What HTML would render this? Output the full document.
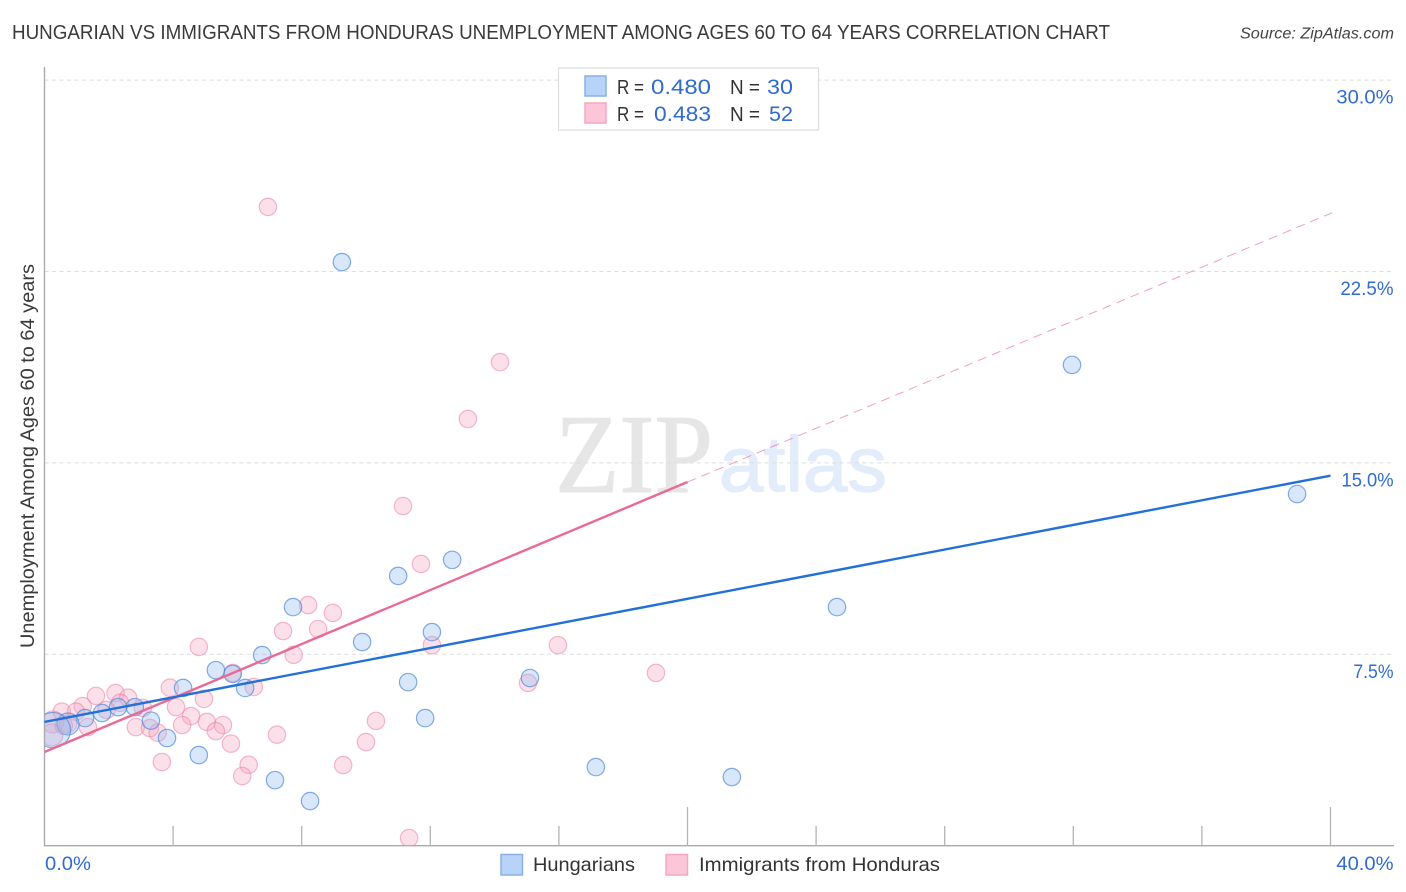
<!DOCTYPE html>
<html lang="en">
<head>
<meta charset="utf-8">
<title>Hungarian vs Immigrants from Honduras Unemployment Correlation Chart</title>
<style>
  html, body { margin: 0; padding: 0; background: #fff; }
  body { width: 1406px; height: 892px; overflow: hidden; }
  svg { display: block; font-family: "Liberation Sans", sans-serif; }
</style>
</head>
<body>
<svg id="chart" width="1406" height="892" viewBox="0 0 1406 892" xmlns="http://www.w3.org/2000/svg">
  <defs>
    <clipPath id="plot-clip"><rect x="45" y="60" width="1349" height="786"/></clipPath>
  </defs>
  <rect x="0" y="0" width="1406" height="892" fill="#ffffff"/>
  <text x="12" y="39" font-size="20" fill="#3a3a3a" textLength="1098" lengthAdjust="spacingAndGlyphs">HUNGARIAN VS IMMIGRANTS FROM HONDURAS UNEMPLOYMENT AMONG AGES 60 TO 64 YEARS CORRELATION CHART</text>
  <text x="1240" y="38.500" font-size="15.500" font-style="italic" fill="#444444" textLength="154" lengthAdjust="spacingAndGlyphs">Source: ZipAtlas.com</text>

  <g>
    <text x="555" y="492" font-family="'Liberation Serif', serif" font-size="112" fill="#e6e6e6" stroke="#e6e6e6" stroke-width="1" textLength="158" lengthAdjust="spacingAndGlyphs">ZIP</text>
    <text x="719" y="491" font-size="78" fill="#e2ecfa" stroke="#e2ecfa" stroke-width="1.200" textLength="168" lengthAdjust="spacingAndGlyphs">atlas</text>
  </g>

  <g id="grid"></g>
  <g id="axes"></g>
  <g id="pink-points" clip-path="url(#plot-clip)"></g>
  <g id="blue-points" clip-path="url(#plot-clip)"></g>
  <g id="trends"></g>
  <g id="labels"></g>

  <text transform="translate(34,648) rotate(-90)" x="0" y="0" font-size="19" fill="#3a3a3a" textLength="384" lengthAdjust="spacingAndGlyphs">Unemployment Among Ages 60 to 64 years</text>

  <g>
    <rect x="558.500" y="68" width="260" height="62" fill="#ffffff" fill-opacity="0.88" stroke="#dddddd" stroke-width="1.200"/>
    <rect x="585" y="76" width="21" height="20" fill="#b8d3f8" stroke="#8ab0e6" stroke-width="1.500"/>
    <rect x="585" y="103" width="21" height="20" fill="#fcc6d8" stroke="#f5a8c0" stroke-width="1.500"/>
    <text x="617" y="94" font-size="20" fill="#333333" textLength="27" lengthAdjust="spacingAndGlyphs">R =</text>
    <text x="651" y="94" font-size="21.500" fill="#2f6bd0" textLength="60" lengthAdjust="spacingAndGlyphs">0.480</text>
    <text x="730" y="94" font-size="20" fill="#333333" textLength="30" lengthAdjust="spacingAndGlyphs">N =</text>
    <text x="767" y="94" font-size="21.500" fill="#2f6bd0" textLength="26" lengthAdjust="spacingAndGlyphs">30</text>
    <text x="617" y="121" font-size="20" fill="#333333" textLength="27" lengthAdjust="spacingAndGlyphs">R =</text>
    <text x="654" y="121" font-size="21.500" fill="#2f6bd0" textLength="57" lengthAdjust="spacingAndGlyphs">0.483</text>
    <text x="730" y="121" font-size="20" fill="#333333" textLength="30" lengthAdjust="spacingAndGlyphs">N =</text>
    <text x="769" y="121" font-size="21.500" fill="#2f6bd0" textLength="24" lengthAdjust="spacingAndGlyphs">52</text>
  </g>

  <g>
    <rect x="501" y="854.500" width="21.500" height="20.500" fill="#b8d3f8" stroke="#8ab0e6" stroke-width="1.500"/>
    <text x="533" y="871" font-size="19.500" fill="#333333" textLength="102" lengthAdjust="spacingAndGlyphs">Hungarians</text>
    <rect x="666" y="854.500" width="21.500" height="20.500" fill="#fcc6d8" stroke="#f5a8c0" stroke-width="1.500"/>
    <text x="699" y="871" font-size="19.500" fill="#333333" textLength="241" lengthAdjust="spacingAndGlyphs">Immigrants from Honduras</text>
  </g>
</svg>

<script>
const hungariansX = [9.25, 31.96, 38.96, 24.65, 12.68, 11.0, 7.73, 12.05, 9.88, 6.77, 5.85, 5.33, 4.31, 6.24, 11.31, 15.10, 11.84, 3.31, 3.81, 4.8, 7.17, 8.26, 17.15, 21.38, 2.81, 2.29, 1.79, 1.26, 0.73, 0.26];
const hungariansY = [22.87, 18.84, 13.78, 9.35, 11.20, 10.57, 9.35, 8.37, 7.98, 7.47, 6.73, 6.88, 6.18, 6.18, 6.41, 6.57, 5.0, 4.9, 4.22, 3.55, 2.57, 1.75, 3.08, 2.69, 5.43, 5.43, 5.2, 5.0, 4.77, 4.53];
const hungariansWeight = [1, 1, 1, 1, 1, 1, 1, 1, 1, 1, 1, 1, 1, 1, 1, 1, 1, 1, 1, 1, 1, 1, 1, 1, 1, 1, 1, 1, 1.6, 4.1];

const hondurasX = [4.80, 7.42, 8.51, 7.75, 5.86, 6.51, 3.90, 4.96, 4.09, 4.56, 5.05, 5.55, 5.33, 4.28, 7.23, 5.80, 6.35, 6.15, 3.65, 2.84, 3.28, 3.52, 1.60, 2.21, 2.60, 1.19, 0.54, 0.98, 2.35, 3.06, 1.93, 1.35, 0.26, 0.23, 0.73, 9.29, 6.95, 14.17, 13.17, 11.15, 11.71, 8.20, 8.97, 12.05, 15.97, 19.02, 15.04, 10.31, 10.0, 11.34, 17.35, 0.6];
const hondurasY = [7.79, 8.41, 8.49, 7.48, 6.77, 6.22, 6.19, 5.75, 5.43, 5.08, 4.85, 4.73, 4.49, 4.73, 4.35, 4.0, 3.17, 2.73, 3.28, 4.65, 4.61, 4.43, 5.87, 5.98, 5.80, 5.47, 5.25, 5.25, 5.60, 5.40, 5.32, 4.65, 4.85, 4.34, 4.77, 3.16, 25.03, 18.95, 16.72, 13.31, 11.04, 9.43, 9.12, 7.86, 7.86, 6.77, 6.38, 4.89, 4.06, 0.3, 29.14, 4.7];
const hondurasWeight = [1, 1, 1, 1, 1, 1, 1, 1, 1, 1, 1, 1, 1, 1, 1, 1, 1, 1, 1, 1, 1, 1, 1, 1, 1, 1, 1, 1, 1, 1, 1, 1, 1.6, 1.6, 1, 1, 1, 1, 1, 1, 1, 1, 1, 1, 1, 1, 1, 1, 1, 1, 1, 1];

const hungariansTrendX = [0, 40];
const hungariansTrendY = [4.85, 14.5];
const hondurasSolidX = [0, 20];
const hondurasSolidY = [3.67, 14.25];
const hondurasDashedX = [20, 40.05];
const hondurasDashedY = [14.25, 24.8];

const yTickValues = [7.5, 15, 22.5, 30];
const yTickLabels = ['7.5%', '15.0%', '22.5%', '30.0%'];
const xTickValues = [4, 8, 12, 16, 20, 24, 28, 32, 36, 40];
const xMajorTicks = [20, 40];
const xEndValues = [0, 40];
const xEndLabels = ['0.0%', '40.0%'];

const SVG_NS = 'http://www.w3.org/2000/svg';
function xScale(v) { return 44.5 + v * 32.15; }
function yScale(v) { return 845.7 - v * 25.52; }
function make(tag, attrs, parent) {
  const el = document.createElementNS(SVG_NS, tag);
  for (const k in attrs) el.setAttribute(k, attrs[k]);
  parent.appendChild(el);
  return el;
}
/* The original label font has a narrow "1" and "7"; fit Liberation to those widths. */
function fitLabel(el) {
  const t = el.textContent;
  const base = el.getComputedTextLength();
  const narrowSeven = t.charAt(0) === '7' ? 0.925 : 1;
  const narrowOne = t.charAt(0) === '1' ? 0.965 : 1;
  const narrowTwo = t.charAt(0) === '2' ? 0.985 : 1;
  const plain = narrowSeven === 1 && narrowOne === 1 && narrowTwo === 1 ? 1.06 : 1;
  el.setAttribute('textLength', (base * narrowSeven * narrowOne * narrowTwo * plain).toFixed(1));
  el.setAttribute('lengthAdjust', 'spacingAndGlyphs');
}

const gridGroup = document.getElementById('grid');
const axesGroup = document.getElementById('axes');
const labelGroup = document.getElementById('labels');
const pinkGroup = document.getElementById('pink-points');
const blueGroup = document.getElementById('blue-points');
const trendGroup = document.getElementById('trends');

yTickValues.forEach(function (v, i) {
  const line = make('line', { x1: 44.5, x2: 1394, y1: yScale(v), y2: yScale(v), stroke: '#dedede', 'stroke-width': 1, 'stroke-dasharray': '4 3.5' }, gridGroup);
  
  
  const label = make('text', { x: 1393.5, y: yScale(v) + 23.5, 'text-anchor': 'end', 'font-size': 19, fill: '#2f6bd0' }, labelGroup);
  
  
  label.textContent = yTickLabels[i];
  fitLabel(label);
});

const yAxis = make('line', { x1: 44.5, x2: 44.5, y1: 67, y2: 846.4, stroke: '#aaaaaa', 'stroke-width': 1.4 }, axesGroup);


const xAxis = make('line', { x1: 44, x2: 1394, y1: 845.7, y2: 845.7, stroke: '#aaaaaa', 'stroke-width': 1.4 }, axesGroup);



xTickValues.forEach(function (v) {
  const tall = xMajorTicks.indexOf(v) >= 0;
  const tick = make('line', { x1: xScale(v), x2: xScale(v), y1: tall ? 807 : 826, y2: 845.7, stroke: '#b4b4b4', 'stroke-width': 1.3 }, axesGroup);
  
  
});

xEndValues.forEach(function (v, i) {
  const label = make('text', { x: i === 0 ? xScale(v) + 0.5 : 1393.5, y: 870, 'text-anchor': i === 0 ? 'start' : 'end', 'font-size': 19, fill: '#2f6bd0' }, labelGroup);
  
  
  label.textContent = xEndLabels[i];
  fitLabel(label);
});

hondurasX.forEach(function (v, i) {
  const dot = make('circle', { cx: xScale(v), cy: yScale(hondurasY[i]), r: 8.7 * Math.sqrt(hondurasWeight[i]), fill: '#f8a9c3', 'fill-opacity': 0.36, stroke: '#ec7fa3', 'stroke-opacity': 0.55, 'stroke-width': 1.2 }, pinkGroup);
  
  
});

hungariansX.forEach(function (v, i) {
  const dot = make('circle', { cx: xScale(v), cy: yScale(hungariansY[i]), r: 8.7 * Math.sqrt(hungariansWeight[i]), fill: '#93bdf2', 'fill-opacity': 0.36, stroke: '#4a86d8', 'stroke-opacity': 0.68, 'stroke-width': 1.2 }, blueGroup);
  
  
});

const pinkDashed = make('line', { x1: xScale(hondurasDashedX[0]), y1: yScale(hondurasDashedY[0]), x2: xScale(hondurasDashedX[1]), y2: yScale(hondurasDashedY[1]), stroke: '#ec6d97', 'stroke-width': 1, 'stroke-dasharray': '9 6', 'stroke-opacity': 0.65 }, trendGroup);


const pinkSolid = make('line', { x1: xScale(hondurasSolidX[0]), y1: yScale(hondurasSolidY[0]), x2: xScale(hondurasSolidX[1]), y2: yScale(hondurasSolidY[1]), stroke: '#ea6a96', 'stroke-width': 2.4 }, trendGroup);


const blueSolid = make('line', { x1: xScale(hungariansTrendX[0]), y1: yScale(hungariansTrendY[0]), x2: xScale(hungariansTrendX[1]), y2: yScale(hungariansTrendY[1]), stroke: '#2270d8', 'stroke-width': 2.4 }, trendGroup);


</script>
</body>
</html>
